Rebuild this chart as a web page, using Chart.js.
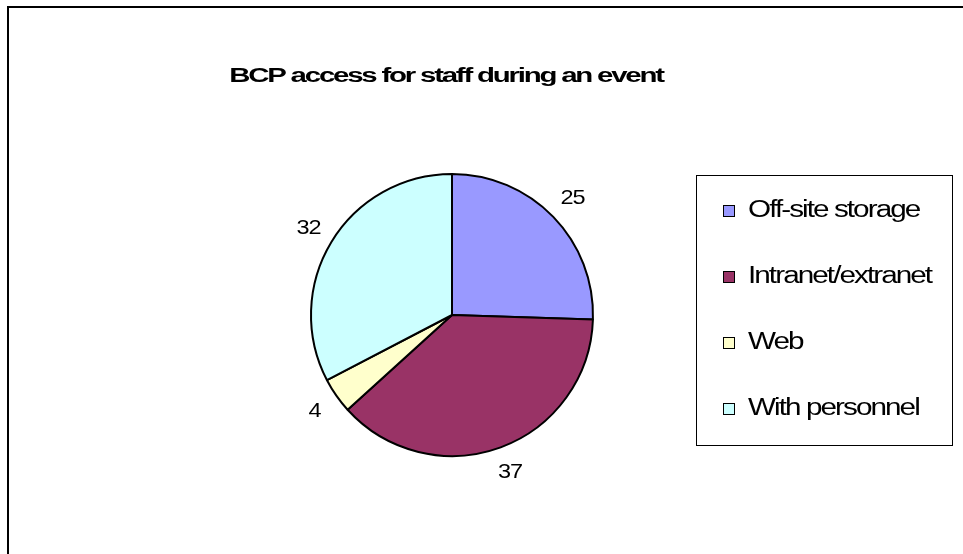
<!DOCTYPE html>
<html>
<head>
<meta charset="utf-8">
<script src="https://cdn.jsdelivr.net/npm/chart.js@4/dist/chart.umd.min.js"></script>
<style>
  body { margin: 0; background: #fff; overflow: hidden; }
  #frame {
    position: absolute; left: 7px; top: 6px; width: 1000px; height: 600px;
    border-left: 2px solid #000; border-top: 2px solid #000;
  }
  #piechart { position: absolute; left: 0; top: 0; }
</style>
</head>
<body>
<div id="frame"></div>
<canvas id="piechart" width="963" height="554"></canvas>
<script>
const chartTitle = "BCP access for staff during an event";
const categories = ["Off-site storage", "Intranet/extranet", "Web", "With personnel"];
const values = [25, 37, 4, 32];
const sliceColors = ["#9999FF", "#993366", "#FFFFCC", "#CCFFFF"];

// draws text squeezed together and stretched wide, like the old Excel render
function stretchedText(ctx, text, x, y, font, sx, spacing, align) {
  ctx.save();
  ctx.font = font;
  ctx.letterSpacing = spacing;
  ctx.fillStyle = "#000";
  ctx.textBaseline = "middle";
  const w = ctx.measureText(text).width * sx;
  let left = x;
  if (align === "center") left = x - w / 2;
  ctx.translate(left, y);
  ctx.scale(sx, 1);
  ctx.textAlign = "left";
  ctx.fillText(text, 0, 0);
  ctx.restore();
}

const excelBits = {
  id: "excelBits",
  afterDraw(chart) {
    const ctx = chart.ctx;
    const font = "Liberation Sans, Arial, sans-serif";

    // title
    stretchedText(ctx, chartTitle, 446, 76, "bold 20px " + font, 1.47, "-1.5px", "center");

    // value labels outside each slice
    const meta = chart.getDatasetMeta(0);
    meta.data.forEach((arc, i) => {
      const p = arc.getProps(["x", "y", "startAngle", "endAngle", "outerRadius"], true);
      const mid = (p.startAngle + p.endAngle) / 2;
      const r = p.outerRadius * 1.19;
      stretchedText(ctx, String(values[i]), p.x + Math.cos(mid) * r, p.y + Math.sin(mid) * r,
        "21px " + font, 1.12, "-1px", "center");
    });

    // legend box
    ctx.save();
    ctx.strokeStyle = "#000";
    ctx.lineWidth = 1;
    ctx.strokeRect(696.5, 175.5, 256, 270);
    ctx.restore();

    categories.forEach((name, i) => {
      const y = 211 + i * 66;
      ctx.save();
      ctx.fillStyle = sliceColors[i];
      ctx.strokeStyle = "#000";
      ctx.lineWidth = 1;
      ctx.fillRect(723.5, y - 5.5, 11, 11);
      ctx.strokeRect(723.5, y - 5.5, 11, 11);
      ctx.restore();
      stretchedText(ctx, name, 748, y, "23px " + font, 1.29, "-1.5px", "left");
    });
  },
};

const ctx = document.getElementById("piechart").getContext("2d");

let pieChart = new Chart(ctx, {
  type: "pie",
  data: {
    labels: categories,
    datasets: [
      {
        data: values,
        backgroundColor: sliceColors,
        borderColor: "#000",
        borderWidth: 2,
      },
    ],
  },
  options: {
    responsive: false,
    animation: false,
    layout: {
      padding: { left: 310, right: 369, top: 173, bottom: 97 },
    },
    plugins: {
      legend: { display: false },
      tooltip: { enabled: false },
    },
  },
  plugins: [excelBits],
});
</script>
</body>
</html>
